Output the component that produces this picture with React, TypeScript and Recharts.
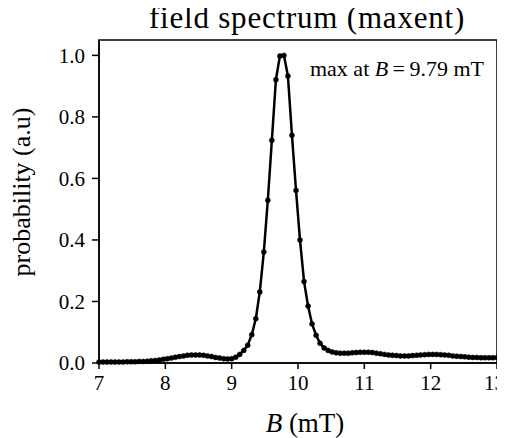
import React from 'react';
import {
  LineChart,
  Line,
  XAxis,
  YAxis,
  ReferenceArea,
  ReferenceDot
} from 'recharts';

// field grid (mT), 100 points between 7 and 13
const fieldValues = [
  7.0, 7.061, 7.121, 7.182, 7.242, 7.303, 7.364, 7.424, 7.485, 7.545,
  7.606, 7.667, 7.727, 7.788, 7.848, 7.909, 7.97, 8.03, 8.091, 8.152,
  8.212, 8.273, 8.333, 8.394, 8.455, 8.515, 8.576, 8.636, 8.697, 8.758,
  8.818, 8.879, 8.939, 9.0, 9.061, 9.121, 9.182, 9.242, 9.303, 9.364,
  9.424, 9.485, 9.545, 9.606, 9.667, 9.727, 9.788, 9.848, 9.909, 9.97,
  10.03, 10.091, 10.152, 10.212, 10.273, 10.333, 10.394, 10.455, 10.515, 10.576,
  10.636, 10.697, 10.758, 10.818, 10.879, 10.939, 11.0, 11.061, 11.121, 11.182,
  11.242, 11.303, 11.364, 11.424, 11.485, 11.545, 11.606, 11.667, 11.727, 11.788,
  11.848, 11.909, 11.97, 12.03, 12.091, 12.152, 12.212, 12.273, 12.333, 12.394,
  12.455, 12.515, 12.576, 12.636, 12.697, 12.758, 12.818, 12.879, 12.939, 13.0
];

// probability (a.u)
const probValues = [
  0.003, 0.003, 0.003, 0.003, 0.003, 0.003, 0.003, 0.004, 0.004, 0.004,
  0.005, 0.005, 0.006, 0.007, 0.008, 0.01, 0.012, 0.014, 0.016, 0.019,
  0.021, 0.023, 0.025, 0.026, 0.026, 0.026, 0.025, 0.023, 0.021, 0.018,
  0.016, 0.014, 0.013, 0.014, 0.019, 0.028, 0.041, 0.058, 0.092, 0.144,
  0.231, 0.361, 0.529, 0.724, 0.921, 0.998, 1.0, 0.933, 0.74, 0.561,
  0.4, 0.265, 0.185, 0.127, 0.09, 0.064, 0.049, 0.041, 0.036, 0.033,
  0.032, 0.032, 0.032, 0.033, 0.034, 0.035, 0.035, 0.035, 0.034, 0.032,
  0.03, 0.028, 0.026, 0.025, 0.024, 0.023, 0.023, 0.023, 0.024, 0.025,
  0.026, 0.027, 0.028, 0.028, 0.028, 0.027, 0.026, 0.025, 0.023, 0.022,
  0.021, 0.02, 0.019, 0.018, 0.018, 0.017, 0.017, 0.017, 0.017, 0.018
];

const xTicks = [7, 8, 9, 10, 11, 12, 13];
const yTicks = [0, 0.2, 0.4, 0.6, 0.8, 1.0];

const data = fieldValues.map((B, i) => ({ B, p: probValues[i] }));

const FONT = '"Liberation Serif", serif';

const MaxLabel = (props: any) => {
  const { viewBox } = props;
  return (
    <text
      x={viewBox.x}
      y={viewBox.y}
      textAnchor="end"
      fontFamily={FONT}
      fontSize={22}
      fill="#000"
    >
      max at <tspan fontStyle="italic">B</tspan>{'\u2009=\u20099.79 mT'}
    </text>
  );
};

// title sits above the plot box, fixed position in the svg
const Title = () => (
  <text
    x={299}
    y={27.6}
    textAnchor="middle"
    fontFamily={FONT}
    fontSize={31}
    letterSpacing={0.8}
    fill="#000"
  >
    field spectrum (maxent)
  </text>
);

const YLabel = () => (
  <text
    x={22}
    y={192}
    transform="rotate(-90 22 192)"
    textAnchor="middle"
    fontFamily={FONT}
    fontSize={26}
    fill="#000"
  >
    probability (a.u)
  </text>
);

const XLabel = () => (
  <text
    x={297}
    y={432}
    textAnchor="middle"
    fontFamily={FONT}
    fontSize={27}
    fill="#000"
  >
    <tspan fontStyle="italic">B</tspan> (mT)
  </text>
);

export default function App() {
  return (
    <div style={{ width: 497, height: 438, marginTop: -8 }}>
      <LineChart
        width={497}
        height={438}
        data={data}
        margin={{ top: 40, right: 8, left: 0, bottom: 0 }}
      >
        <XAxis
          dataKey="B"
          type="number"
          domain={[7, 13]}
          ticks={xTicks}
          height={75}
          stroke="#000"
          strokeWidth={1.5}
          tickSize={6}
          tickMargin={6}
          tick={{ fontFamily: FONT, fontSize: 21, fill: '#000' }}
          label={<XLabel />}
        />
        <YAxis
          type="number"
          domain={[0, 1.05]}
          ticks={yTicks}
          width={91}
          stroke="#000"
          strokeWidth={1.5}
          tickSize={7}
          tickMargin={7}
          tickFormatter={(v: number) => v.toFixed(1)}
          tick={{ fontFamily: FONT, fontSize: 21, fill: '#000' }}
          label={<YLabel />}
        />
        <ReferenceArea
          x1={7}
          x2={13}
          y1={0}
          y2={1.05}
          fill="none"
          stroke="#000"
          strokeWidth={1.5}
        />
        <Line
          type="linear"
          dataKey="p"
          stroke="#000"
          strokeWidth={2.5}
          dot={{ r: 2.5, fill: '#000', stroke: '#000', strokeWidth: 0.5 }}
          isAnimationActive={false}
        />
        <ReferenceDot
          x={12.804}
          y={0.933}
          r={0}
          stroke="none"
          fill="none"
          label={<MaxLabel />}
        />
        <ReferenceDot
          x={10}
          y={1.05}
          r={0}
          stroke="none"
          fill="none"
          label={<Title />}
        />
      </LineChart>
    </div>
  );
}
